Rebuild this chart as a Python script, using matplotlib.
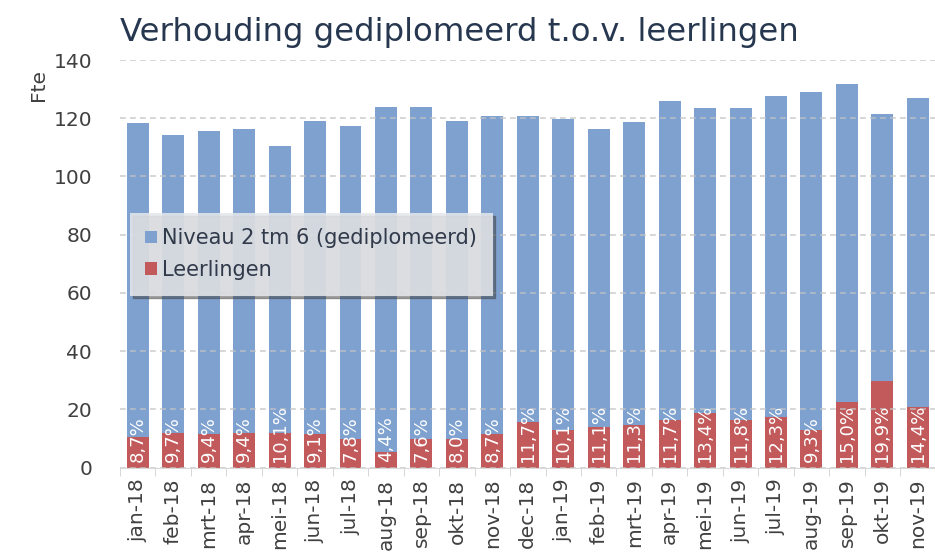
import numpy as np
import matplotlib.pyplot as plt
from matplotlib.patches import Patch

# Monthly figures
maanden = ['jan-18', 'feb-18', 'mrt-18', 'apr-18', 'mei-18', 'jun-18', 'jul-18',
           'aug-18', 'sep-18', 'okt-18', 'nov-18', 'dec-18', 'jan-19', 'feb-19',
           'mrt-19', 'apr-19', 'mei-19', 'jun-19', 'jul-19', 'aug-19', 'sep-19',
           'okt-19', 'nov-19']
gediplomeerd = [118.2, 114.4, 115.5, 116.2, 110.3, 119.2, 117.2, 124.0, 124.0,
                119.2, 120.6, 120.6, 119.9, 116.2, 118.6, 125.8, 123.4, 123.4,
                127.5, 128.9, 131.6, 121.6, 126.8]
leerlingen = [10.6, 11.7, 11.4, 11.7, 11.7, 11.4, 9.7, 5.4, 9.8, 9.8, 11.4, 15.7,
              12.9, 14.0, 14.6, 16.3, 18.6, 16.3, 17.2, 12.9, 22.6, 29.8, 20.9]
percentages = ['8,7%', '9,7%', '9,4%', '9,4%', '10,1%', '9,1%', '7,8%', '4,4%',
               '7,6%', '8,0%', '8,7%', '11,7%', '10,1%', '11,1%', '11,3%', '11,7%',
               '13,4%', '11,8%', '12,3%', '9,3%', '15,0%', '19,9%', '14,4%']

blauw = '#7ea1cf'
rood = '#c2595a'
tekst = '#404040'

fig = plt.figure(figsize=(9.35, 5.58), dpi=100)
ax = fig.add_axes([120 / 935, 1 - 467.5 / 558, 815.6 / 935, 407.5 / 558])

x = np.arange(len(maanden))
ax.bar(x, gediplomeerd, width=0.62, color=blauw, zorder=1)
ax.bar(x, leerlingen, width=0.62, color=rood, zorder=2)

# percentage labels, written upward from the base of each bar
for xi, p in zip(x, percentages):
    ax.text(xi, 1.8, p, rotation=90, ha='center', va='bottom',
            color='white', fontsize=13, zorder=4)

ax.set_xlim(-0.4, len(maanden) - 1 + 0.4)
ax.set_ylim(0, 140)
ax.set_yticks(range(0, 141, 20))
ax.grid(axis='y', color='#c4c4c4', linestyle=(0, (3.5, 2.5)), linewidth=1.2,
        alpha=0.8, zorder=3)
ax.set_axisbelow(False)

ax.set_xticks(x)
ax.set_xticklabels(maanden, rotation=90, fontsize=14.5, color=tekst)
ax.set_xticks(np.arange(-0.5, len(maanden)), minor=True)
ax.tick_params(axis='x', which='major', length=0, pad=8)
ax.tick_params(axis='x', which='minor', length=6, color='#d0d0d0')
ax.tick_params(axis='y', length=0, pad=20, labelsize=14.5, labelcolor=tekst)

for side in ['top', 'right', 'left']:
    ax.spines[side].set_visible(False)
ax.spines['bottom'].set_color('#d9d9d9')

fig.text(38 / 935, 1 - 85 / 558, 'Fte', rotation=90, ha='center', va='center',
         fontsize=14.5, color=tekst)
fig.text(120 / 935, 1 - 32 / 558, 'Verhouding gediplomeerd t.o.v. leerlingen',
         ha='left', va='center', fontsize=23.3, color='#26374f')

handles = [Patch(facecolor=blauw, label='Niveau 2 tm 6 (gediplomeerd)'),
           Patch(facecolor=rood, label='Leerlingen')]
leg = ax.legend(handles=handles, loc='upper left', bbox_to_anchor=(0.012, 0.625),
                borderaxespad=0, fontsize=15, handlelength=0.55, handleheight=0.55,
                handletextpad=0.25, labelspacing=0.55, frameon=True, fancybox=False,
                shadow=True, borderpad=0.75, labelcolor='#303a4a')
leg.get_frame().set_facecolor('#e4e6ea')
leg.get_frame().set_alpha(0.88)
leg.get_frame().set_edgecolor('none')
leg.set_zorder(5)

plt.savefig('out.png', dpi=100)
